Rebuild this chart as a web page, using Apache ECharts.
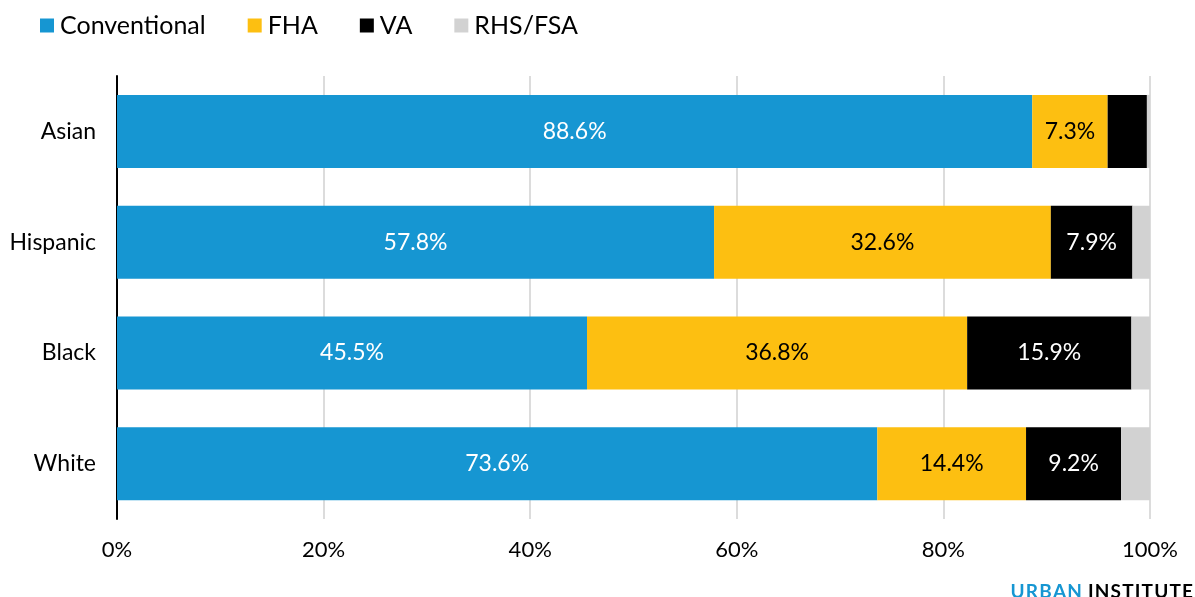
<!DOCTYPE html>
<html>
<head>
<meta charset="utf-8">
<script src="https://cdn.jsdelivr.net/npm/echarts@6/dist/echarts.min.js"></script>
<style>
html,body{margin:0;padding:0;background:#fff;}
#c{width:1195px;height:597px;}
</style>
</head>
<body>
<div id="c"></div>
<script>
const categories = ['Asian', 'Hispanic', 'Black', 'White'];
const conventional = [88.6, 57.8, 45.5, 73.6];
const fha = [7.3, 32.6, 36.8, 14.4];
const va = [3.8, 7.9, 15.9, 9.2];
const rhsFsa = [0.3, 1.7, 1.8, 2.8];
const xTicks = [0, 20, 40, 60, 80, 100];

const FONT = 'Lato, "Noto Sans", sans-serif';
const chart = echarts.init(document.getElementById('c'));

function mk(name, data, color, labelColor) {
  return {
    name: name,
    type: 'bar',
    stack: 'total',
    data: data,
    barWidth: 73,
    itemStyle: { color: color },
    label: {
      show: true,
      position: 'inside',
      color: labelColor,
      fontFamily: FONT,
      fontSize: 23,
      formatter: p => p.value >= 5 ? p.value.toFixed(1) + '%' : ''
    },
    emphasis: { disabled: true }
  };
}

chart.setOption({
  animation: false,
  textStyle: { fontFamily: FONT },
  legend: {
    left: 35, top: 8,
    itemWidth: 14, itemHeight: 14, itemGap: 42,
    icon: 'rect',
    textStyle: { fontFamily: FONT, fontSize: 25, color: '#000', padding: [0, 0, 0, 1] },
    data: ['Conventional', 'FHA', 'VA', 'RHS/FSA']
  },
  grid: { left: 117, right: 45, top: 76, bottom: 78, containLabel: false },
  xAxis: {
    type: 'value', min: 0, max: 100, interval: 20,
    axisLine: { show: false },
    axisTick: { show: false },
    splitLine: { show: true, lineStyle: { color: '#dcdcdc', width: 2 } },
    axisLabel: {
      margin: 20, fontFamily: FONT, fontSize: 22, color: '#000',
      formatter: v => xTicks.includes(v) ? v + '%' : ''
    }
  },
  yAxis: {
    type: 'category', inverse: true, data: categories,
    axisLine: { show: true, lineStyle: { color: '#000', width: 2 } },
    axisTick: { show: false },
    axisLabel: { margin: 21, fontFamily: FONT, fontSize: 23, color: '#000' }
  },
  series: [
    mk('Conventional', conventional, '#1696d2', '#fff'),
    mk('FHA', fha, '#fdbf11', '#000'),
    mk('VA', va, '#000000', '#fff'),
    mk('RHS/FSA', rhsFsa, '#d2d2d2', '#000')
  ],
  graphic: [{
    type: 'text', right: 2, top: 582,
    style: {
      text: '{a|U\u200AR\u200AB\u200AA\u200AN}\u2002{b|I\u200AN\u200AS\u200AT\u200AI\u200AT\u200AU\u200AT\u200AE}',
      rich: {
        a: { fontFamily: FONT, fontSize: 19, fontWeight: 'bold', fill: '#1696d2', color: '#1696d2' },
        b: { fontFamily: FONT, fontSize: 19, fontWeight: 'bold', fill: '#000', color: '#000' }
      }
    }
  }]
});
</script>
</body>
</html>
